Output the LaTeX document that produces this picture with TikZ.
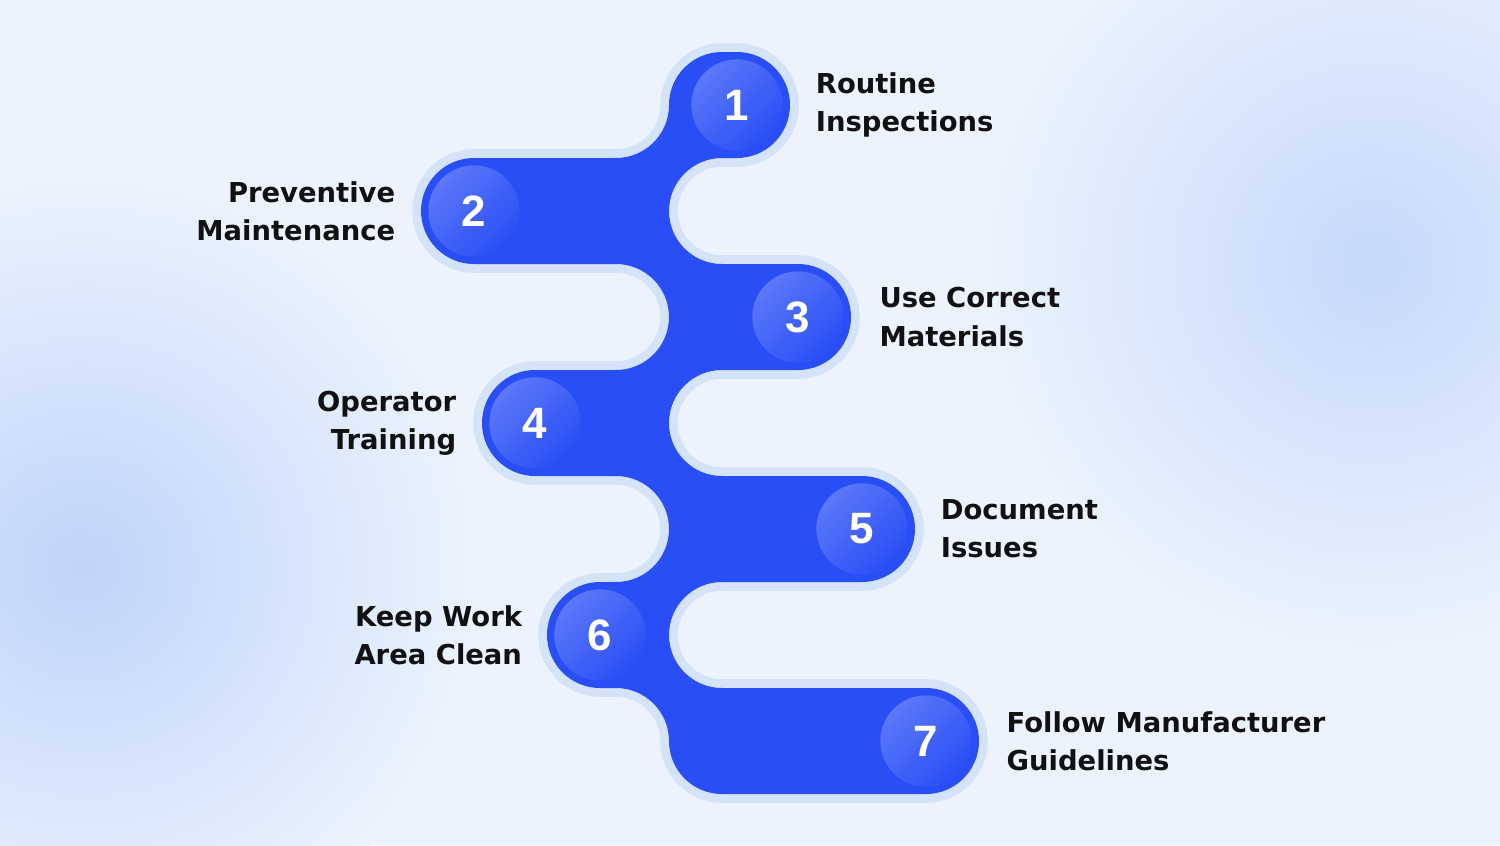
\documentclass[tikz,border=0pt]{standalone}
\usepackage{fontspec}
\setmainfont{Liberation Sans}
\newfontfamily\labelfont{DejaVu Sans}
\usetikzlibrary{positioning}

\definecolor{bgbase}{HTML}{ECF3FD}
\definecolor{bgblob}{HTML}{BFD4FA}
\definecolor{snakeblue}{HTML}{2A4EF5}
\definecolor{snakering}{HTML}{D5E3F8}
\definecolor{dotlight}{HTML}{5B78F8}
\definecolor{dotdark}{HTML}{2A4EF5}
\definecolor{labeltext}{HTML}{111111}

\tikzset{
  stepdot/.style={circle, minimum size=52pt, inner sep=0pt,
    top color=dotlight, bottom color=dotdark, shading angle=45,
    text=white, font=\fontsize{25}{25}\selectfont\bfseries},
  steplabel/.style={text=labeltext, inner sep=0pt,
    font=\labelfont\fontsize{15.6}{21.7}\selectfont\bfseries},
}

\begin{document}
\begin{tikzpicture}[x=0.02cm, y=-0.02cm]
\useasboundingbox (0,0) rectangle (1500,845);

% Background
\fill[bgbase] (0,0) rectangle (1500,845);
\shade[inner color=bgblob, outer color=bgbase] (83,567) circle (400);
\shade[inner color=bgblob!85!bgbase, outer color=bgbase] (1373,263) circle (400);

% Snake band
\fill[snakeblue, preaction={draw=snakering, line width=10pt}]
  (722,52) -- (737,52) arc[start angle=-90, end angle=90, radius=53]
  -- (722,158) arc[start angle=-90, end angle=-270, radius=53]
  -- (798,264) arc[start angle=-90, end angle=90, radius=53]
  -- (722,370) arc[start angle=-90, end angle=-270, radius=53]
  -- (862,476) arc[start angle=-90, end angle=90, radius=53]
  -- (722,582) arc[start angle=-90, end angle=-270, radius=53]
  -- (926,688) arc[start angle=-90, end angle=90, radius=53]
  -- (722,794) arc[start angle=90, end angle=180, radius=53]
  arc[start angle=0, end angle=-90, radius=53]
  -- (600,688) arc[start angle=90, end angle=270, radius=53]
  -- (616,582) arc[start angle=90, end angle=-90, radius=53]
  -- (535,476) arc[start angle=90, end angle=270, radius=53]
  -- (616,370) arc[start angle=90, end angle=-90, radius=53]
  -- (474,264) arc[start angle=90, end angle=270, radius=53]
  -- (616,158) arc[start angle=90, end angle=0, radius=53]
  arc[start angle=180, end angle=270, radius=53] -- cycle;

% Step numbers
\node[stepdot] (n1) at (737,105) {1};
\node[stepdot] (n2) at (474,211) {2};
\node[stepdot] (n3) at (798,317) {3};
\node[stepdot] (n4) at (535,423) {4};
\node[stepdot] (n5) at (862,529) {5};
\node[stepdot] (n6) at (600,635) {6};
\node[stepdot] (n7) at (926,741) {7};

% Labels
\node[steplabel, align=left, right=18.5pt of n1] (t1) {Routine\\Inspections};
\node[steplabel, align=right, left=18.5pt of n2] (t2) {Preventive\\Maintenance};
\node[steplabel, align=left, right=20pt of n3] (t3) {Use Correct\\Materials};
\node[steplabel, align=right, left=18.5pt of n4] (t4) {Operator\\Training};
\node[steplabel, align=left, right=18.5pt of n5] (t5) {Document\\Issues};
\node[steplabel, align=right, left=18pt of n6] (t6) {Keep Work\\Area Clean};
\node[steplabel, align=left, right=19.5pt of n7] (t7) {Follow Manufacturer\\Guidelines};

\end{tikzpicture}
\end{document}
